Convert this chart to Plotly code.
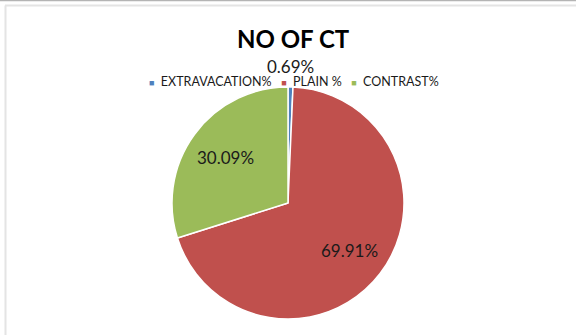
import math
import plotly.graph_objects as go

# Share of CT scans by type (percent)
categories = ["EXTRAVACATION%", "PLAIN %", "CONTRAST%"]
values = [0.69, 69.91, 30.09]
colors = ["#4F81BD", "#C0504D", "#9BBB59"]
title_text = "NO OF CT"

W, H = 576, 335
FONT = "Lato, 'Open Sans', sans-serif"

# Pie placement in pixels
cx, cy, r = 288, 203, 116
dom_y = [(H - (cy + r)) / H, (H - (cy - r)) / H]

fig = go.Figure()
fig.add_trace(go.Pie(
    labels=categories,
    values=values,
    marker=dict(colors=colors, line=dict(color="white", width=1.5)),
    sort=False,
    direction="clockwise",
    rotation=0,
    textinfo="none",
    hoverinfo="label+value",
    showlegend=False,
    domain=dict(x=[0, 1], y=dom_y),
))

# Data labels placed along each slice's mid-angle
total = sum(values)
annotations = []
start = 0.0
for cat, v in zip(categories, values):
    mid = (start + v / 2) / total * 2 * math.pi
    start += v
    label = f"{v:.2f}%"
    if v / total < 0.05:
        px = cx + r * math.sin(mid)
        py = 67
    else:
        f = 0.67
        px = cx + f * r * math.sin(mid)
        py = cy - f * r * math.cos(mid)
    annotations.append(dict(
        x=px / W, y=(H - py) / H, xref="paper", yref="paper",
        text=label, showarrow=False, xanchor="center", yanchor="middle",
        font=dict(family=FONT, size=17, color="#1a1a1a"),
    ))

# Legend row under the title
legend_parts = [
    f"<span style='color:{c};font-size:9px'>■</span>&nbsp;&nbsp;{name}"
    for name, c in zip(categories, colors)
]
annotations.append(dict(
    x=294 / W, y=(H - 81) / H, xref="paper", yref="paper",
    text="&nbsp;&nbsp;&nbsp;".join(legend_parts), showarrow=False,
    xanchor="center", yanchor="middle",
    font=dict(family=FONT, size=12.5, color="#1a1a1a"),
))

# Title
annotations.append(dict(
    x=293 / W, y=(H - 39) / H, xref="paper", yref="paper",
    text=f"<b>{title_text}</b>", showarrow=False,
    xanchor="center", yanchor="middle",
    font=dict(family=FONT, size=24, color="#000000"),
))

# Frame lines around the chart area
shapes = [
    dict(type="line", xref="paper", yref="paper", x0=0, x1=1,
         y0=(H - 0.5) / H, y1=(H - 0.5) / H, line=dict(color="#B4B4B4", width=1.5)),
    dict(type="line", xref="paper", yref="paper", x0=5 / W, x1=1,
         y0=(H - 5.5) / H, y1=(H - 5.5) / H, line=dict(color="#E4E4E4", width=2)),
    dict(type="line", xref="paper", yref="paper", x0=5.5 / W, x1=5.5 / W,
         y0=0, y1=(H - 5.5) / H, line=dict(color="#E4E4E4", width=2)),
]

fig.update_layout(
    width=W, height=H,
    margin=dict(l=0, r=0, t=0, b=0),
    paper_bgcolor="white",
    plot_bgcolor="white",
    annotations=annotations,
    shapes=shapes,
)

fig.write_html("out.html")
